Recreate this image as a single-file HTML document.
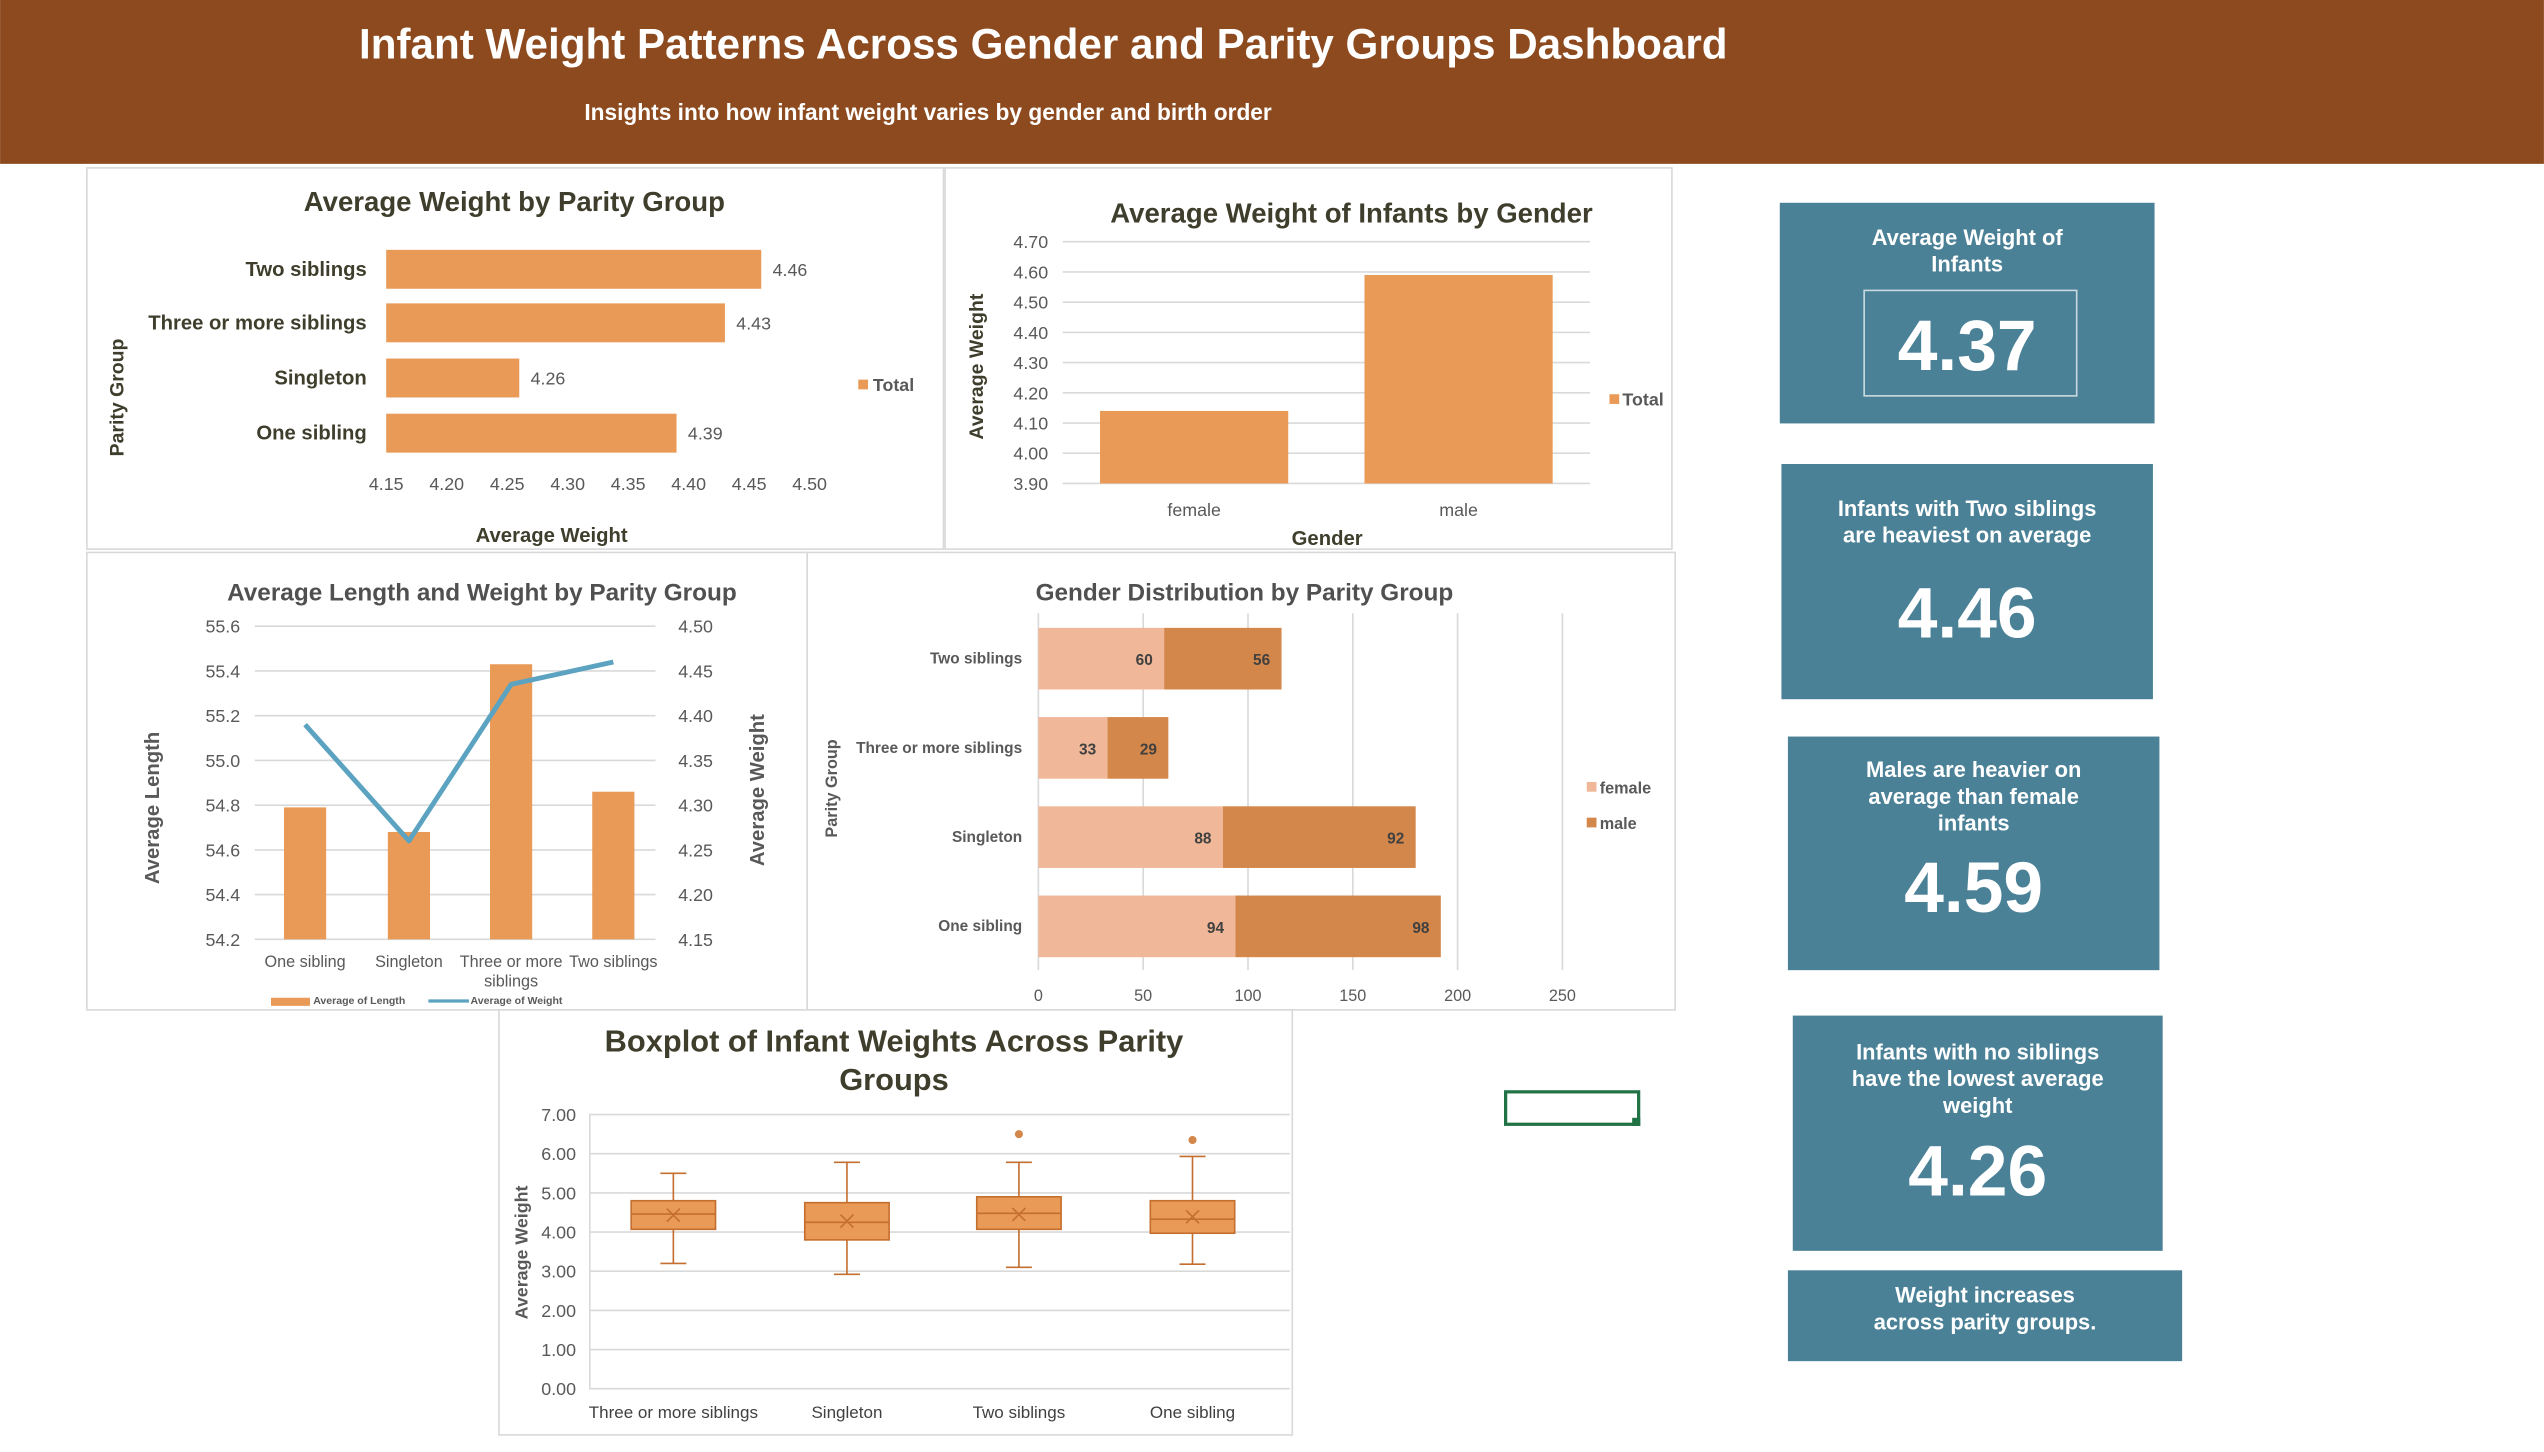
<!DOCTYPE html>
<html><head><meta charset="utf-8"><style>
html,body{margin:0;padding:0;background:#fff;width:2544px;height:1452px;overflow:hidden}
svg{display:block;font-family:"Liberation Sans",sans-serif}
</style></head><body>
<svg id="root" width="2544" height="1452" viewBox="0 0 1568 895" xmlns="http://www.w3.org/2000/svg">
<rect x="0" y="0" width="1568" height="101" fill="#8C4A1E"/>
<text x="643" y="36" text-anchor="middle" fill="#fff" font-size="26" font-weight="bold">Infant Weight Patterns Across Gender and Parity Groups Dashboard</text>
<text x="572" y="74" text-anchor="middle" fill="#fff" font-size="14" font-weight="bold">Insights into how infant weight varies by gender and birth order</text>
<g fill="#fff" stroke="#d9d9d9" stroke-width="1">
<rect x="53.5" y="103.5" width="528" height="235"/>
<rect x="582.5" y="103.5" width="448" height="235"/>
<rect x="53.5" y="340.5" width="444" height="282"/>
<rect x="497.5" y="340.5" width="535" height="282"/>
<rect x="307.5" y="622.5" width="489" height="262"/>
</g>
<g id="c1"></g><g id="c2"></g><g id="c3"></g><g id="c4"></g><g id="c5"></g>
<g id="kpis"></g>
<rect x="928" y="673" width="82" height="20" fill="none" stroke="#217346" stroke-width="2"/>
<rect x="1006" y="689" width="5" height="5" fill="#217346"/>
</svg>
<script>
// Chart 1: Average weight by parity group
const c1Cats = ["Two siblings","Three or more siblings","Singleton","One sibling"];
const c1Vals = [4.46,4.43,4.26,4.39];
const c1Ticks = [4.15,4.20,4.25,4.30,4.35,4.40,4.45,4.50];
// Chart 2: by gender
const c2Cats = ["female","male"];
const c2Vals = [4.14,4.59];
const c2Ticks = [3.90,4.00,4.10,4.20,4.30,4.40,4.50,4.60,4.70];
// Chart 3: length & weight
const c3Cats = ["One sibling","Singleton","Three or more|siblings","Two siblings"];
const c3Length = [54.79,54.68,55.43,54.86];
const c3Weight = [4.39,4.26,4.435,4.46];
const c3LTicks = [54.2,54.4,54.6,54.8,55.0,55.2,55.4,55.6];
const c3WTicks = [4.15,4.20,4.25,4.30,4.35,4.40,4.45,4.50];
// Chart 4: gender distribution
const c4Cats = ["Two siblings","Three or more siblings","Singleton","One sibling"];
const c4Female = [60,33,88,94];
const c4Male = [56,29,92,98];
const c4Ticks = [0,50,100,150,200,250];
// Chart 5: boxplot
const c5Cats = ["Three or more siblings","Singleton","Two siblings","One sibling"];
const c5Min = [3.2,2.92,3.1,3.18];
const c5Q1 = [4.07,3.8,4.07,3.97];
const c5Med = [4.46,4.25,4.48,4.33];
const c5Q3 = [4.8,4.75,4.9,4.8];
const c5Max = [5.5,5.78,5.78,5.93];
const c5Mean = [4.43,4.28,4.45,4.39];
const c5Out = [null,null,6.5,6.35];
const c5Ticks = [0,1,2,3,4,5,6,7];
// KPI cards
const kpiText = [["Average Weight of","Infants"],["Infants with Two siblings","are heaviest on average"],["Males are heavier on","average than female","infants"],["Infants with no siblings","have the lowest average","weight"],["Weight increases","across parity groups."]];
const kpiVals = ["4.37","4.46","4.59","4.26",""];

const NS="http://www.w3.org/2000/svg";
const ORANGE="#E99A56", DARK="#3F3E2C", GRID="#d9d9d9", AX="#595959";
function mk(p,tag,a,txt){const e=document.createElementNS(NS,tag);for(const k in a)e.setAttribute(k,a[k]);if(txt!==undefined)e.textContent=txt;p.appendChild(e);return e;}

// ---------- Chart 1
(function(){
 const g=document.getElementById('c1');
 const x=v=>238+(v-4.15)/0.35*261;
 const yc=[166,199,233,267];
 let t=mk(g,'text',{x:317,y:130,'text-anchor':'middle','font-size':17,'font-weight':'bold',fill:DARK},'Average Weight by Parity Group');
 
 c1Ticks.forEach(v=>{const e=mk(g,'text',{x:x(v),y:302,'text-anchor':'middle','font-size':11,fill:AX},v.toFixed(2));
  });
 c1Cats.forEach((c,i)=>{
  const b=mk(g,'rect',{x:238,y:yc[i]-12,width:x(c1Vals[i])-238,height:24,fill:ORANGE});
  
  const l=mk(g,'text',{x:226,y:yc[i]+4,'text-anchor':'end','font-size':12.5,'font-weight':'bold',fill:DARK},c);
  
  const v=mk(g,'text',{x:x(c1Vals[i])+7,y:yc[i]+4,'font-size':11,fill:AX},c1Vals[i].toFixed(2));
  
 });
 let at=mk(g,'text',{x:340,y:334,'text-anchor':'middle','font-size':12.5,'font-weight':'bold',fill:DARK},'Average Weight');
 
 let yt=mk(g,'text',{x:0,y:0,transform:'translate(76,245) rotate(-90)','text-anchor':'middle','font-size':12,'font-weight':'bold',fill:DARK},'Parity Group');
 
 let ls=mk(g,'rect',{x:529,y:234,width:6,height:6,fill:ORANGE});
 
 let lt=mk(g,'text',{x:538,y:241,'font-size':11,'font-weight':'bold',fill:AX},'Total');
 
})();

// ---------- Chart 2
(function(){
 const g=document.getElementById('c2');
 const y=v=>298-(v-3.9)/0.8*149;
 const xc=[736,899];
 let t=mk(g,'text',{x:833,y:137,'text-anchor':'middle','font-size':17,'font-weight':'bold',fill:DARK},'Average Weight of Infants by Gender');
 
 c2Ticks.forEach(v=>{
  const gl=mk(g,'line',{x1:655,x2:980,y1:y(v),y2:y(v),stroke:GRID,'stroke-width':1});
  
  const e=mk(g,'text',{x:646,y:y(v)+4,'text-anchor':'end','font-size':11,fill:AX},v.toFixed(2));
  });
 c2Cats.forEach((c,i)=>{
  const b=mk(g,'rect',{x:xc[i]-58,y:y(c2Vals[i]),width:116,height:298-y(c2Vals[i]),fill:ORANGE});
  
  const l=mk(g,'text',{x:xc[i],y:318,'text-anchor':'middle','font-size':11,fill:AX},c);
  
 });
 let at=mk(g,'text',{x:818,y:336,'text-anchor':'middle','font-size':12.5,'font-weight':'bold',fill:DARK},'Gender');
 
 let yt=mk(g,'text',{x:0,y:0,transform:'translate(606,226) rotate(-90)','text-anchor':'middle','font-size':12,'font-weight':'bold',fill:DARK},'Average Weight');
 
 let ls=mk(g,'rect',{x:992,y:243,width:6,height:6,fill:ORANGE});
 
 let lt=mk(g,'text',{x:1000,y:250,'font-size':11,'font-weight':'bold',fill:AX},'Total');
 
})();

// ---------- Chart 3
(function(){
 const g=document.getElementById('c3');
 const yL=v=>579-(v-54.2)/1.4*193;
 const yW=v=>579-(v-4.15)/0.35*193;
 const xc=[188,252,315,378];
 let t=mk(g,'text',{x:297,y:370,'text-anchor':'middle','font-size':15,'font-weight':'bold',fill:'#505050'},'Average Length and Weight by Parity Group');
 
 c3LTicks.forEach(v=>{
  const gl=mk(g,'line',{x1:157,x2:404,y1:yL(v),y2:yL(v),stroke:GRID});
  
  const e=mk(g,'text',{x:148,y:yL(v)+4,'text-anchor':'end','font-size':11,fill:AX},v.toFixed(1));
  });
 c3WTicks.forEach(v=>{
  const e=mk(g,'text',{x:418,y:yW(v)+4,'font-size':11,fill:AX},v.toFixed(2));
  });
 c3Cats.forEach((c,i)=>{
  const b=mk(g,'rect',{x:xc[i]-13,y:yL(c3Length[i]),width:26,height:579-yL(c3Length[i]),fill:ORANGE});
  
  c.split('|').forEach((p,j)=>{const l=mk(g,'text',{x:xc[i],y:596+j*12,'text-anchor':'middle','font-size':10,fill:AX},p);
   });
 });
 const pts=c3Weight.map((v,i)=>xc[i]+','+yW(v)).join(' ');
 let pl=mk(g,'polyline',{points:pts,fill:'none',stroke:'#5BA3C0','stroke-width':3,'stroke-linejoin':'round'});
 
 let y1=mk(g,'text',{x:0,y:0,transform:'translate(98,498) rotate(-90)','text-anchor':'middle','font-size':12.5,'font-weight':'bold',fill:AX},'Average Length');
 
 let y2=mk(g,'text',{x:0,y:0,transform:'translate(471,487) rotate(-90)','text-anchor':'middle','font-size':12.5,'font-weight':'bold',fill:AX},'Average Weight');
 
 let l1=mk(g,'rect',{x:167,y:615,width:24,height:5,fill:ORANGE});
 
 let l1t=mk(g,'text',{x:193,y:619,'font-size':6.5,'font-weight':'bold',fill:AX},'Average of Length');
 
 let l2=mk(g,'line',{x1:264,x2:289,y1:617,y2:617,stroke:'#5BA3C0','stroke-width':2});
 
 let l2t=mk(g,'text',{x:290,y:619,'font-size':6.5,'font-weight':'bold',fill:AX},'Average of Weight');
 
})();

// ---------- Chart 4
(function(){
 const g=document.getElementById('c4');
 const x=v=>640+v*323/250;
 const yc=[406,461,516,571];
 const FEM="#F0B898", MAL="#D4874A";
 let t=mk(g,'text',{x:767,y:370,'text-anchor':'middle','font-size':15,'font-weight':'bold',fill:'#505050'},'Gender Distribution by Parity Group');
 
 c4Ticks.forEach(v=>{
  const gl=mk(g,'line',{x1:x(v),x2:x(v),y1:378,y2:598,stroke:GRID});
  
  const e=mk(g,'text',{x:x(v),y:617,'text-anchor':'middle','font-size':10,fill:AX},v);
  });
 c4Cats.forEach((c,i)=>{
  const f=mk(g,'rect',{x:x(0),y:yc[i]-19,width:x(c4Female[i])-x(0),height:38,fill:FEM});
  
  const m=mk(g,'rect',{x:x(c4Female[i]),y:yc[i]-19,width:x(c4Male[i])-x(0),height:38,fill:MAL});
  
  const fl=mk(g,'text',{x:x(c4Female[i])-7,y:yc[i]+4,'text-anchor':'end','font-size':9.5,'font-weight':'bold',fill:'#404040'},c4Female[i]);
  
  const ml=mk(g,'text',{x:x(c4Female[i]+c4Male[i])-7,y:yc[i]+4,'text-anchor':'end','font-size':9.5,'font-weight':'bold',fill:'#404040'},c4Male[i]);
  
  const l=mk(g,'text',{x:630,y:yc[i]+3,'text-anchor':'end','font-size':9.5,'font-weight':'bold',fill:AX},c);
  
 });
 let yt=mk(g,'text',{x:0,y:0,transform:'translate(516,486) rotate(-90)','text-anchor':'middle','font-size':10,'font-weight':'bold',fill:AX},'Parity Group');
 
 let a=mk(g,'rect',{x:978,y:482,width:6,height:6,fill:FEM});
 
 let at=mk(g,'text',{x:986,y:489,'font-size':10,'font-weight':'bold',fill:AX},'female');
 
 let b=mk(g,'rect',{x:978,y:504,width:6,height:6,fill:MAL});
 
 let bt=mk(g,'text',{x:986,y:511,'font-size':10,'font-weight':'bold',fill:AX},'male');
 
})();

// ---------- Chart 5
(function(){
 const g=document.getElementById('c5');
 const y=v=>856-v/7*169;
 const xc=[415,522,628,735];
 const ST="#C46F2F";
 ["Boxplot of Infant Weights Across Parity","Groups"].forEach((s,j)=>{
  const t=mk(g,'text',{x:551,y:648+j*24,'text-anchor':'middle','font-size':19,'font-weight':'bold',fill:DARK},s);
  });
 c5Ticks.forEach(v=>{
  const gl=mk(g,'line',{x1:363,x2:795,y1:y(v),y2:y(v),stroke:GRID});
  
  const e=mk(g,'text',{x:355,y:y(v)+4,'text-anchor':'end','font-size':11,fill:AX},v.toFixed(2));
  });
 mk(g,'line',{x1:363.5,x2:363.5,y1:y(7),y2:y(0),stroke:GRID});
 c5Cats.forEach((c,i)=>{
  const X=xc[i];
  const w=mk(g,'path',{d:`M${X},${y(c5Min[i])}V${y(c5Q1[i])}M${X},${y(c5Q3[i])}V${y(c5Max[i])}M${X-8},${y(c5Min[i])}H${X+8}M${X-8},${y(c5Max[i])}H${X+8}`,stroke:ST,'stroke-width':1,fill:'none'});
  
  const b=mk(g,'rect',{x:X-26,y:y(c5Q3[i]),width:52,height:y(c5Q1[i])-y(c5Q3[i]),fill:ORANGE,stroke:ST,'stroke-width':1});
  
  const m=mk(g,'line',{x1:X-26,x2:X+26,y1:y(c5Med[i]),y2:y(c5Med[i]),stroke:ST});
  
  const ym=y(c5Mean[i]);
  const mx=mk(g,'path',{d:`M${X-4},${ym-4}L${X+4},${ym+4}M${X+4},${ym-4}L${X-4},${ym+4}`,stroke:ST,fill:'none'});
  
  if(c5Out[i]!==null){const o=mk(g,'circle',{cx:X,cy:y(c5Out[i]),r:2.5,fill:'#D4874A'});
   }
  const l=mk(g,'text',{x:X,y:874,'text-anchor':'middle','font-size':10.5,fill:'#404040'},c);
  
 });
 let yt=mk(g,'text',{x:0,y:0,transform:'translate(325,772) rotate(-90)','text-anchor':'middle','font-size':11,'font-weight':'bold',fill:AX},'Average Weight');
 
})();

// ---------- KPI cards
(function(){
 const g=document.getElementById('kpis');
 const boxes=[[1097,125,231,136,147],[1098,286,229,145,314],[1102,454,229,144,475],[1105,626,228,145,649],[1102,783,243,56,799]];
 const valY=[228,393,562,737,0];
 boxes.forEach((b,i)=>{
  const r=mk(g,'rect',{x:b[0],y:b[1],width:b[2],height:b[3],fill:'#4A8196'});
  
  const cx=b[0]+b[2]/2;
  kpiText[i].forEach((s,j)=>{const t=mk(g,'text',{x:cx,y:b[4]+4+j*16.5,'text-anchor':'middle','font-size':13.5,'font-weight':'bold',fill:'#fff'},s);
   });
  if(kpiVals[i]){
   const v=mk(g,'text',{x:cx,y:valY[i],'text-anchor':'middle','font-size':44,'font-weight':'bold',fill:'#fff'},kpiVals[i]);
   
  }
 });
 const ib=mk(g,'rect',{x:1149,y:179,width:131,height:65,fill:'none',stroke:'#C9D9DF','stroke-width':1});
 
})();
</script>
</body></html>
